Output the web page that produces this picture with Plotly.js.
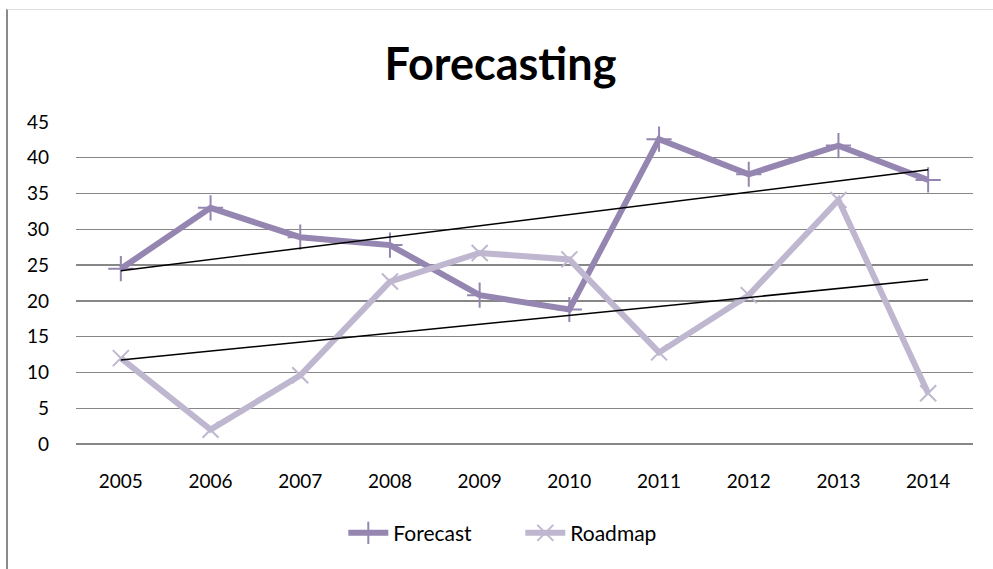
<!DOCTYPE html>
<html>
<head>
<meta charset="utf-8">
<script src="https://cdn.plot.ly/plotly-3.0.1.min.js"></script>
<style>
  html, body { margin: 0; padding: 0; background: #fff; width: 993px; height: 569px; overflow: hidden; }
  #chart {
    position: absolute; left: 6px; top: 9px;
    width: 985px; height: 559px;
    border-left: 2px solid #8a8a8a;
    border-top: 1px solid #dcdcdc;
  }
</style>
</head>
<body>
<div id="chart"></div>
<script>
// Yearly values for the two series
const years = ['2005', '2006', '2007', '2008', '2009', '2010', '2011', '2012', '2013', '2014'];
const forecast = [24.5, 33.0, 28.9, 27.8, 20.8, 18.8, 42.6, 37.7, 41.7, 36.9];
const roadmap = [12.0, 2.0, 9.6, 22.7, 26.7, 25.8, 12.8, 20.8, 34.1, 7.1];
const yTicks = [0, 5, 10, 15, 20, 25, 30, 35, 40, 45];

const forecastColor = '#9586B1';
const roadmapColor = '#BFB7D0';
const font = 'Lato, "Open Sans", sans-serif';

// Least-squares linear trend over the category index (1..n)
function linearTrend(values) {
  const n = values.length;
  const xs = values.map((_, i) => i + 1);
  const mx = xs.reduce((a, b) => a + b, 0) / n;
  const my = values.reduce((a, b) => a + b, 0) / n;
  let sxy = 0, sxx = 0;
  xs.forEach((x, i) => { sxy += (x - mx) * (values[i] - my); sxx += (x - mx) * (x - mx); });
  const slope = sxy / sxx;
  return xs.map(x => my + slope * (x - mx));
}

const traces = [
  {
    x: years, y: forecast, name: 'Forecast', type: 'scatter', mode: 'lines+markers',
    line: { color: forecastColor, width: 6 },
    marker: { symbol: 'cross-thin-open', size: 18, line: { color: forecastColor, width: 2 } }
  },
  {
    x: years, y: roadmap, name: 'Roadmap', type: 'scatter', mode: 'lines+markers',
    line: { color: roadmapColor, width: 6 },
    marker: { symbol: 'x-thin-open', size: 16, line: { color: roadmapColor, width: 2 } }
  },
  {
    x: years, y: linearTrend(forecast), type: 'scatter', mode: 'lines', showlegend: false,
    hoverinfo: 'skip', line: { color: '#000', width: 1.5 }
  },
  {
    x: years, y: linearTrend(roadmap), type: 'scatter', mode: 'lines', showlegend: false,
    hoverinfo: 'skip', line: { color: '#000', width: 1.5 }
  }
];

const layout = {
  width: 985, height: 559,
  margin: { l: 68, r: 20, t: 112, b: 125 },
  paper_bgcolor: '#fff', plot_bgcolor: '#fff',
  font: { family: font, color: '#000', size: 19 },
  title: {
    text: '<b>Forecasting</b>',
    font: { family: font, size: 45, color: '#000' },
    x: 0.5, xanchor: 'center', xref: 'container',
    y: 0.903, yanchor: 'middle', yref: 'container'
  },
  xaxis: {
    type: 'category', range: [-0.5, 9.5],
    showgrid: false, zeroline: false,
    showline: false, ticks: '', ticklabelstandoff: 24,
    tickfont: { family: font, size: 19, color: '#000' }
  },
  yaxis: {
    range: [0, 45], tickvals: yTicks, ticktext: yTicks.map(String),
    showgrid: true, gridcolor: '#878787', gridwidth: 1.4,
    zeroline: true, zerolinecolor: '#878787', zerolinewidth: 1.4,
    showline: false, ticks: '', ticklabelstandoff: 26,
    tickfont: { family: font, size: 19, color: '#000' }
  },
  legend: {
    orientation: 'h', x: 0.298, xanchor: 'left', y: -0.277, yanchor: 'middle',
    font: { family: font, size: 21, color: '#000' },
    entrywidth: 122, entrywidthmode: 'pixels',
    itemwidth: 40, tracegroupgap: 0
  },
  showlegend: true
};

Plotly.newPlot('chart', traces, layout, { displayModeBar: false, staticPlot: true });
</script>
</body>
</html>
